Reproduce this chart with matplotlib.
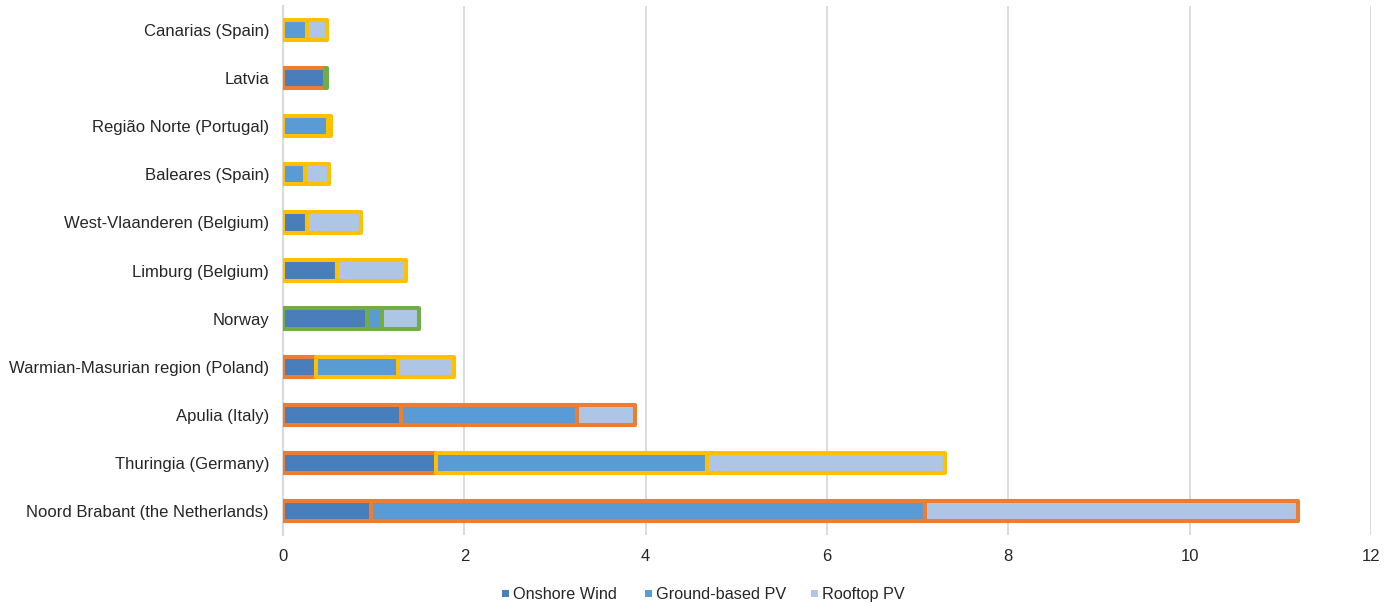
import matplotlib
matplotlib.use("Agg")
import matplotlib.pyplot as plt
from matplotlib.patches import Rectangle
import numpy as np

regions = ["Canarias (Spain)", "Latvia", "Região Norte (Portugal)", "Baleares (Spain)",
           "West-Vlaanderen (Belgium)", "Limburg (Belgium)", "Norway",
           "Warmian-Masurian region (Poland)", "Apulia (Italy)", "Thuringia (Germany)",
           "Noord Brabant (the Netherlands)"]
onshore_wind = [0.00, 0.46, 0.00, 0.00, 0.27, 0.60, 0.93, 0.36, 1.30, 1.69, 0.97]
ground_pv    = [0.26, 0.00, 0.50, 0.24, 0.00, 0.00, 0.16, 0.91, 1.94, 2.99, 6.11]
rooftop_pv   = [0.23, 0.03, 0.03, 0.27, 0.59, 0.76, 0.41, 0.62, 0.64, 2.62, 4.12]

series_names = ["Onshore Wind", "Ground-based PV", "Rooftop PV"]

ORANGE, YELLOW, GREEN = "#ED7D31", "#FFC000", "#70AD47"
edge_wind    = [YELLOW, ORANGE, YELLOW, YELLOW, YELLOW, YELLOW, GREEN, ORANGE, ORANGE, ORANGE, ORANGE]
edge_ground  = [YELLOW, GREEN,  YELLOW, YELLOW, YELLOW, YELLOW, GREEN, YELLOW, ORANGE, YELLOW, ORANGE]
edge_rooftop = [YELLOW, GREEN,  YELLOW, YELLOW, YELLOW, YELLOW, GREEN, YELLOW, ORANGE, YELLOW, ORANGE]

fill_colors = ["#4A7EBB", "#5B9BD5", "#ADC6E5"]
TEXT = "#262626"

plt.rcParams["font.family"] = ["Liberation Sans", "DejaVu Sans"]

fig = plt.figure(figsize=(13.85, 6.03), dpi=100)
ax = fig.add_axes([283/1385, 1-535/603, (1371-283)/1385, (535-6)/603])

y = np.arange(len(regions))
left = np.zeros(len(regions))
for vals, edges, col in zip([onshore_wind, ground_pv, rooftop_pv],
                            [edge_wind, edge_ground, edge_rooftop], fill_colors):
    vals = np.array(vals)
    mask = vals > 0
    ax.barh(y[mask], vals[mask], left=left[mask], height=0.42, color=col,
            edgecolor=[e for e, m in zip(edges, mask) if m], linewidth=2.9,
            joinstyle="round", zorder=3)
    left += vals

ax.set_ylim(len(regions) - 0.5, -0.5)
ax.set_yticks(y)
ax.set_yticklabels(regions, fontsize=12, color=TEXT)
ax.set_xlim(0, 12)
ax.set_xticks(range(0, 13, 2))
ax.tick_params(axis="x", labelsize=12, labelcolor=TEXT, length=0, pad=10)
ax.tick_params(axis="y", length=0, pad=10)
ax.grid(axis="x", color="#D9D9D9", linewidth=1.3, zorder=0)
for s in ["top", "right", "bottom"]:
    ax.spines[s].set_visible(False)
ax.spines["left"].set_color("#D9D9D9")
ax.spines["left"].set_linewidth(1.5)

# legend (manual, bottom centre)
leg_x = [502, 645, 811]
leg_y = 593
sq = 7
for lx, col, name in zip(leg_x, fill_colors, series_names):
    fig.patches.append(Rectangle((lx/1385, 1-(leg_y+sq/2)/603), sq/1385, sq/603,
                                 transform=fig.transFigure, facecolor=col,
                                 edgecolor="none", figure=fig))
    fig.text((lx+sq+4)/1385, 1-leg_y/603, name, fontsize=11.7, color=TEXT,
             va="center_baseline", ha="left")

fig.savefig("out.png", dpi=100)
